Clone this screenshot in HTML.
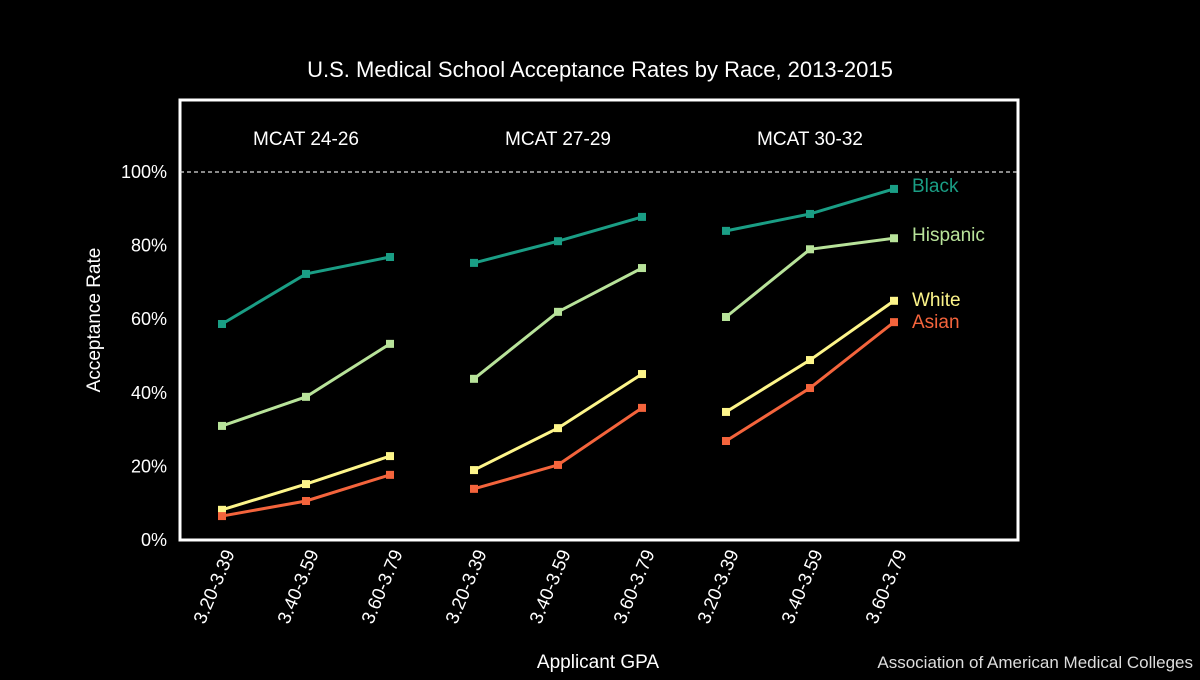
<!DOCTYPE html>
<html><head><meta charset="utf-8"><style>
body{margin:0;background:#000;width:1200px;height:675px;overflow:hidden;font-family:"Liberation Sans",sans-serif}
svg text{font-family:"Liberation Sans",sans-serif}
</style></head><body>
<svg id="chart" width="1200" height="675">
<rect width="1200" height="675" fill="#000"/>
<text x="600" y="77" fill="#fff" font-size="22" text-anchor="middle">U.S. Medical School Acceptance Rates by Race, 2013-2015</text>
<rect x="180" y="100" width="838" height="440" fill="none" stroke="#fff" stroke-width="3"/>
<line x1="180" y1="172" x2="1018" y2="172" stroke="#ddd" stroke-width="1.3" stroke-dasharray="4,3"/>
<text x="100" y="320" fill="#fff" font-size="19" text-anchor="middle" transform="rotate(-90 100 320)">Acceptance Rate</text>
<text x="598" y="668" fill="#fff" font-size="19" text-anchor="middle">Applicant GPA</text>
<text x="1193" y="668" fill="#ddd" font-size="17" text-anchor="end">Association of American Medical Colleges</text>
<g id="g"></g>
</svg>
<script>
const groups=["MCAT 24-26","MCAT 27-29","MCAT 30-32"];
const gpaBins=["3.20-3.39","3.40-3.59","3.60-3.79"];
const yTicks=[0,20,40,60,80,100];
const seriesNames=["Black","Hispanic","White","Asian"];
const black=[58.7,72.3,76.9,75.3,81.2,87.8,84,88.6,95.4];
const hispanic=[31,38.9,53.3,43.8,62,73.9,60.6,79,82];
const white=[8.2,15.2,22.8,19,30.4,45.1,34.8,48.9,65];
const asian=[6.5,10.6,17.7,13.9,20.4,35.9,26.9,41.3,59.2];
const colors=["#1a9e85","#b8e39a","#fdf58a","#f4643c"];
const NS="http://www.w3.org/2000/svg";
const g=document.getElementById('g');
const y=v=>540-v*3.68;
const x=(gi,bi)=>222+gi*252+bi*84;
function mk(t,a,p){const e=document.createElementNS(NS,t);for(const k in a)e.setAttribute(k,a[k]);(p||g).appendChild(e);return e;}
yTicks.forEach(v=>{const t=mk('text',{x:167,y:y(v)+6,fill:'#fff','font-size':18,'text-anchor':'end'});t.textContent=v+'%';

});
groups.forEach((gn,gi)=>{const t=mk('text',{x:x(gi,1),y:145,fill:'#fff','font-size':19,'text-anchor':'middle'});t.textContent=gn;


gpaBins.forEach((b,bi)=>{const px=x(gi,bi)+13,py=553;const l=mk('text',{x:px,y:py,fill:'#fff','font-size':18.5,'text-anchor':'end',transform:`rotate(-67 ${px} ${py})`});l.textContent=b;

});});
[black,hispanic,white,asian].forEach((s,si)=>{
 groups.forEach((gn,gi)=>{const pts=[0,1,2].map(bi=>x(gi,bi)+','+y(s[gi*3+bi])).join(' ');
  const pl=mk('polyline',{points:pts,fill:'none',stroke:colors[si],'stroke-width':3});
  
  
  [0,1,2].forEach(bi=>{const r=mk('rect',{x:x(gi,bi)-4,y:y(s[gi*3+bi])-4,width:8,height:8,fill:colors[si]});
  
  });});
 const ly=[y(black[8])+3,y(hispanic[8])+3,y(white[8])+5,y(asian[8])+6][si];
 const t=mk('text',{x:912,y:ly,fill:colors[si],'font-size':19});t.textContent=seriesNames[si];
 
 
});
</script>
</body></html>
